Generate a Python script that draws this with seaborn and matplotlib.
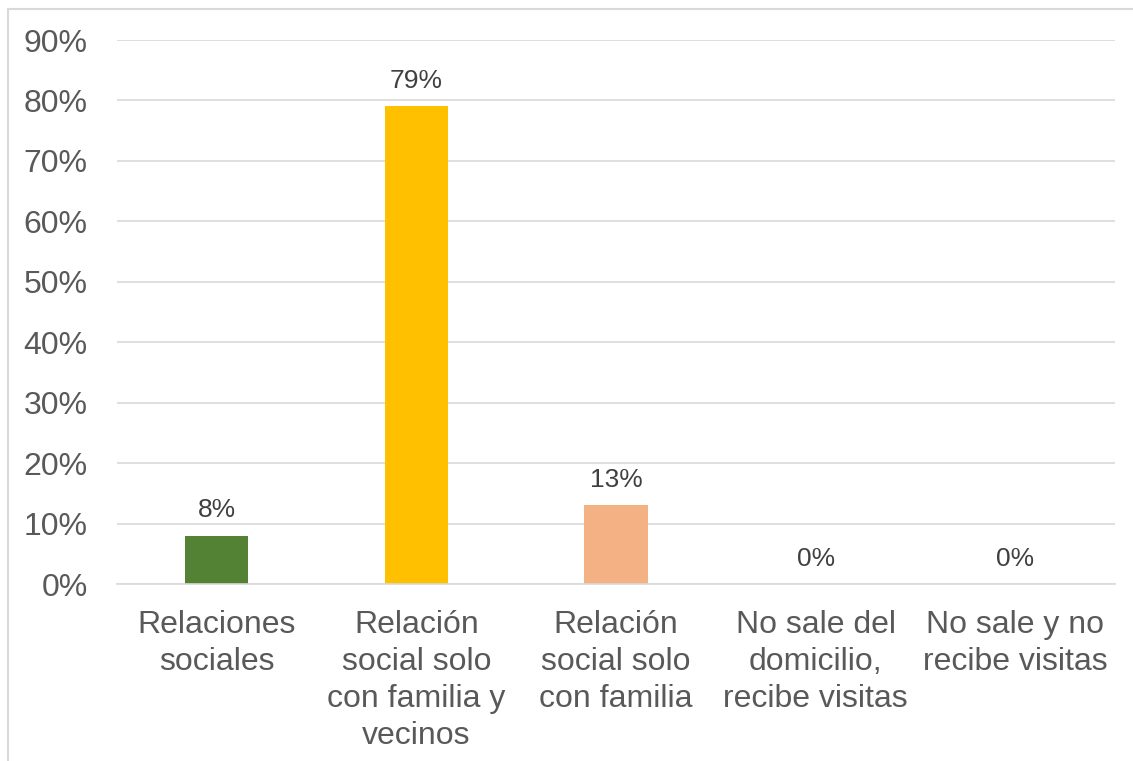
import matplotlib
matplotlib.use("Agg")
import matplotlib.pyplot as plt
import seaborn as sns
import pandas as pd
from matplotlib.patches import Rectangle

categories = ["Relaciones\nsociales",
              "Relación\nsocial solo\ncon familia y\nvecinos",
              "Relación\nsocial solo\ncon familia",
              "No sale del\ndomicilio,\nrecibe visitas",
              "No sale y no\nrecibe visitas"]
values = [0.08, 0.79, 0.13, 0.0, 0.0]
labels = ["8%", "79%", "13%", "0%", "0%"]
colors = ["#548235", "#FFC000", "#F4B183", "#5B9BD5", "#A5A5A5"]
yticks = [0, 0.1, 0.2, 0.3, 0.4, 0.5, 0.6, 0.7, 0.8, 0.9]
ytick_labels = ["0%", "10%", "20%", "30%", "40%", "50%", "60%", "70%", "80%", "90%"]

sns.set_theme(style="white")
plt.rcParams['font.family'] = ['Liberation Sans', 'DejaVu Sans']

df = pd.DataFrame({"cat": categories, "val": values})

fig = plt.figure(figsize=(11.33, 7.61), dpi=100)
ax = fig.add_axes([117/1133, 1-584/761, (1115-117)/1133, (584-40)/761])

sns.barplot(data=df, x="cat", y="val", hue="cat", palette=colors,
            width=0.316, legend=False, ax=ax, saturation=1, linewidth=0)

ax.set_ylim(0, 0.9)
ax.set_xlim(-0.5, 4.5)
ax.set_yticks(yticks)
ax.set_yticklabels(ytick_labels)
ax.yaxis.grid(True, color="#D9D9D9", linewidth=1.2)
ax.set_axisbelow(True)
for s in ["top", "right", "left"]:
    ax.spines[s].set_visible(False)
ax.spines["bottom"].set_color("#D9D9D9")
ax.spines["bottom"].set_linewidth(1.2)
ax.set_xlabel("")
ax.set_ylabel("")
ax.tick_params(axis="y", length=0, pad=21, labelsize=23, labelcolor="#595959")
ax.tick_params(axis="x", length=0, pad=19, labelsize=23, labelcolor="#595959")
for t in ax.get_xticklabels():
    t.set_linespacing(1.3)

for i, (v, lab) in enumerate(zip(values, labels)):
    ax.annotate(lab, xy=(i, v), xytext=(0, 9.5), textcoords="offset points",
                ha="center", va="bottom", fontsize=19, color="#404040")

fig.patches.append(Rectangle((8/1133, -0.1), 1.2, 1.1 - 9/761, transform=fig.transFigure,
                             fill=False, edgecolor="#D9D9D9", linewidth=1.5, zorder=0))

fig.savefig("out.png", dpi=100, facecolor="white")
